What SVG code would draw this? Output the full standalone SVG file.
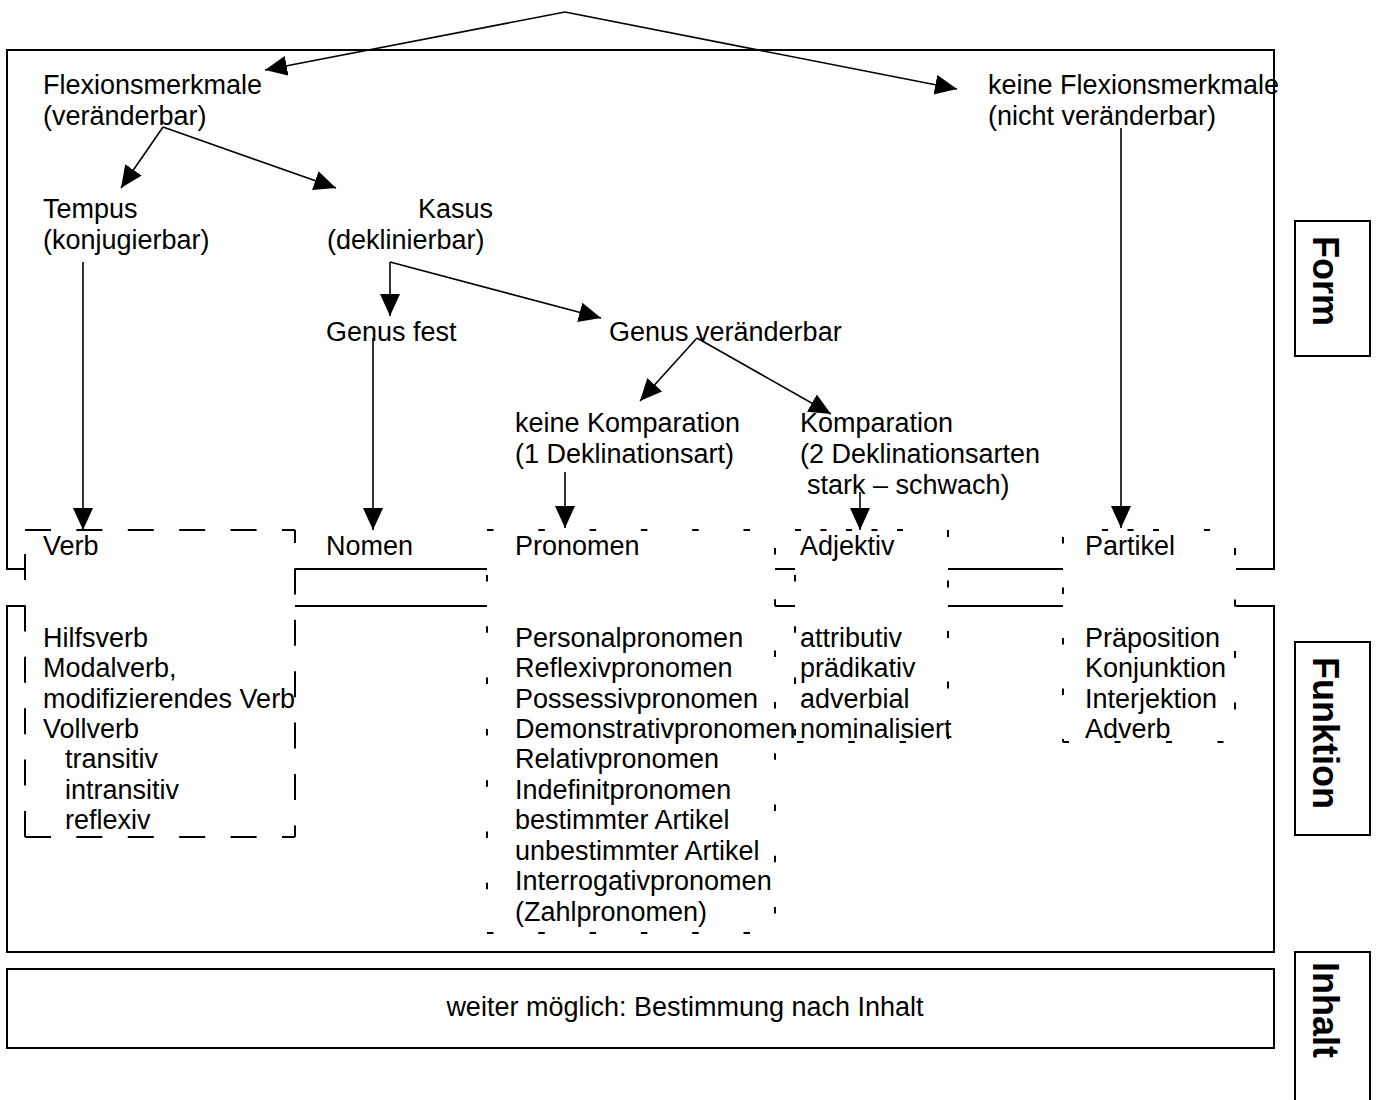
<svg xmlns="http://www.w3.org/2000/svg" width="1378" height="1100" viewBox="0 0 1378 1100">
<style>
text{font-family:"Liberation Sans",Arial,sans-serif;font-size:27px;fill:#000}
.side{font-size:36px;font-weight:bold}
.frame{fill:none;stroke:#000;stroke-width:2}
.conn{fill:none;stroke:#000;stroke-width:1.6}
.lng{stroke:#000;stroke-width:2;stroke-dasharray:26 25.4;fill:none}
.sh{stroke:#000;stroke-width:2;stroke-dasharray:6.5 44.8;fill:none}
.sh2{stroke:#000;stroke-width:2;stroke-dasharray:6 19.5;fill:none}
</style>
<defs>
<marker id="ah" markerUnits="userSpaceOnUse" markerWidth="22" markerHeight="20" refX="22" refY="10" orient="auto">
<path d="M0,0 L22,10 L0,20 z" fill="#000"/>
</marker>
</defs>
<rect width="1378" height="1100" fill="#fff"/>

<g id="frames">
<path class="frame" d="M25,569 H7 V50 H1274 V569 H1236 M295,569 H487 M775,569 H795 M948,569 H1063"/>
<path class="frame" d="M25,606 H7 V952 H1274 V606 H1236 M295,606 H487 M775,606 H795 M948,606 H1063"/>
<rect class="frame" x="7" y="969" width="1267" height="79"/>
</g>

<g id="side-labels">
<g id="label-form"><rect class="frame" x="1295" y="221" width="75" height="135"/><text class="side" transform="translate(1313,281) rotate(90)" text-anchor="middle">Form</text></g>
<g id="label-funktion"><rect class="frame" x="1295" y="642" width="75" height="193"/><text class="side" transform="translate(1313,733) rotate(90)" text-anchor="middle">Funktion</text></g>
<g id="label-inhalt"><rect class="frame" x="1295" y="952" width="75" height="160"/><text class="side" transform="translate(1313,1010) rotate(90)" text-anchor="middle">Inhalt</text></g>
</g>

<g id="connectors">
<path class="conn" d="M565,12 L265,70" marker-end="url(#ah)"/>
<path class="conn" d="M565,12 L957,89" marker-end="url(#ah)"/>
<path class="conn" d="M163,127 L121,188" marker-end="url(#ah)"/>
<path class="conn" d="M163,127 L336,188" marker-end="url(#ah)"/>
<path class="conn" d="M83,262 L83,530" marker-end="url(#ah)"/>
<path class="conn" d="M390,262 L390,316" marker-end="url(#ah)"/>
<path class="conn" d="M390,262 L601,318" marker-end="url(#ah)"/>
<path class="conn" d="M373,338 L373,530" marker-end="url(#ah)"/>
<path class="conn" d="M697,338 L640,401" marker-end="url(#ah)"/>
<path class="conn" d="M697,338 L831,414" marker-end="url(#ah)"/>
<path class="conn" d="M565,472 L565,528" marker-end="url(#ah)"/>
<path class="conn" d="M860,492 L860,530" marker-end="url(#ah)"/>
<path class="conn" d="M1121,128 L1121,528" marker-end="url(#ah)"/>
</g>

<g id="node-flexion"><text x="43" y="94">Flexionsmerkmale</text><text x="43" y="125">(veränderbar)</text></g>
<g id="node-keine-flexion"><text x="988" y="94">keine Flexionsmerkmale</text><text x="988" y="125">(nicht veränderbar)</text></g>
<g id="node-tempus"><text x="43" y="218">Tempus</text><text x="43" y="249">(konjugierbar)</text></g>
<g id="node-kasus"><text x="418" y="218">Kasus</text><text x="327" y="249">(deklinierbar)</text></g>
<g id="node-genus-fest"><text x="326" y="341">Genus fest</text></g>
<g id="node-genus-veraenderbar"><text x="609" y="341">Genus veränderbar</text></g>
<g id="node-keine-komparation"><text x="515" y="432">keine Komparation</text><text x="515" y="463">(1 Deklinationsart)</text></g>
<g id="node-komparation"><text x="800" y="432">Komparation</text><text x="800" y="463">(2 Deklinationsarten</text><text x="807" y="494">stark – schwach)</text></g>

<g id="node-verb">
<line class="lng" x1="25" y1="530" x2="295" y2="530"/>
<line class="lng" x1="25" y1="837" x2="295" y2="837"/>
<line class="lng" x1="295" y1="530" x2="295" y2="837" stroke-dashoffset="13"/>
<line class="lng" x1="25" y1="837" x2="25" y2="530"/>
<text x="43" y="555">Verb</text>
<text x="43" y="647">Hilfsverb</text>
<text x="43" y="677">Modalverb,</text>
<text x="43" y="708">modifizierendes Verb</text>
<text x="43" y="738">Vollverb</text>
<text x="65" y="768">transitiv</text>
<text x="65" y="799">intransitiv</text>
<text x="65" y="829">reflexiv</text>
</g>

<g id="node-nomen"><text x="326" y="555">Nomen</text></g>

<g id="node-pronomen">
<line class="sh" x1="487" y1="530" x2="775" y2="530"/>
<line class="sh" x1="487" y1="933" x2="775" y2="933"/>
<line class="sh" x1="487" y1="575" x2="487" y2="933"/>
<line class="sh" x1="775" y1="548" x2="775" y2="933"/>
<text x="515" y="555">Pronomen</text>
<text x="515" y="647">Personalpronomen</text>
<text x="515" y="677">Reflexivpronomen</text>
<text x="515" y="708">Possessivpronomen</text>
<text x="515" y="738">Demonstrativpronomen</text>
<text x="515" y="768">Relativpronomen</text>
<text x="515" y="799">Indefinitpronomen</text>
<text x="515" y="829">bestimmter Artikel</text>
<text x="515" y="860">unbestimmter Artikel</text>
<text x="515" y="890">Interrogativpronomen</text>
<text x="515" y="921">(Zahlpronomen)</text>
</g>

<g id="node-adjektiv">
<line class="sh2" x1="795" y1="530" x2="905" y2="530"/>
<line class="sh" x1="948" y1="530" x2="948" y2="742" style="stroke-dasharray:7 43.5"/>
<line class="sh" x1="797" y1="742" x2="948" y2="742"/>
<line class="sh" x1="795" y1="575" x2="795" y2="742"/>
<text x="800" y="555">Adjektiv</text>
<text x="800" y="647">attributiv</text>
<text x="800" y="677">prädikativ</text>
<text x="800" y="708">adverbial</text>
<text x="800" y="738">nominalisiert</text>
</g>

<g id="node-partikel">
<line class="sh2" x1="1102" y1="530" x2="1160" y2="530"/>
<line class="sh" x1="1204" y1="530" x2="1210" y2="530"/>
<line class="sh" x1="1063" y1="537" x2="1063" y2="742" style="stroke-dasharray:6.5 44"/>
<line class="sh" x1="1235" y1="548" x2="1235" y2="742" style="stroke-dasharray:7 44.5"/>
<line class="sh" x1="1063" y1="742" x2="1235" y2="742" style="stroke-dasharray:6 45.5"/>
<text x="1085" y="555">Partikel</text>
<text x="1085" y="647">Präposition</text>
<text x="1085" y="677">Konjunktion</text>
<text x="1085" y="708">Interjektion</text>
<text x="1085" y="738">Adverb</text>
</g>

<g id="node-inhalt"><text x="685" y="1016" text-anchor="middle">weiter möglich: Bestimmung nach Inhalt</text></g>
</svg>
